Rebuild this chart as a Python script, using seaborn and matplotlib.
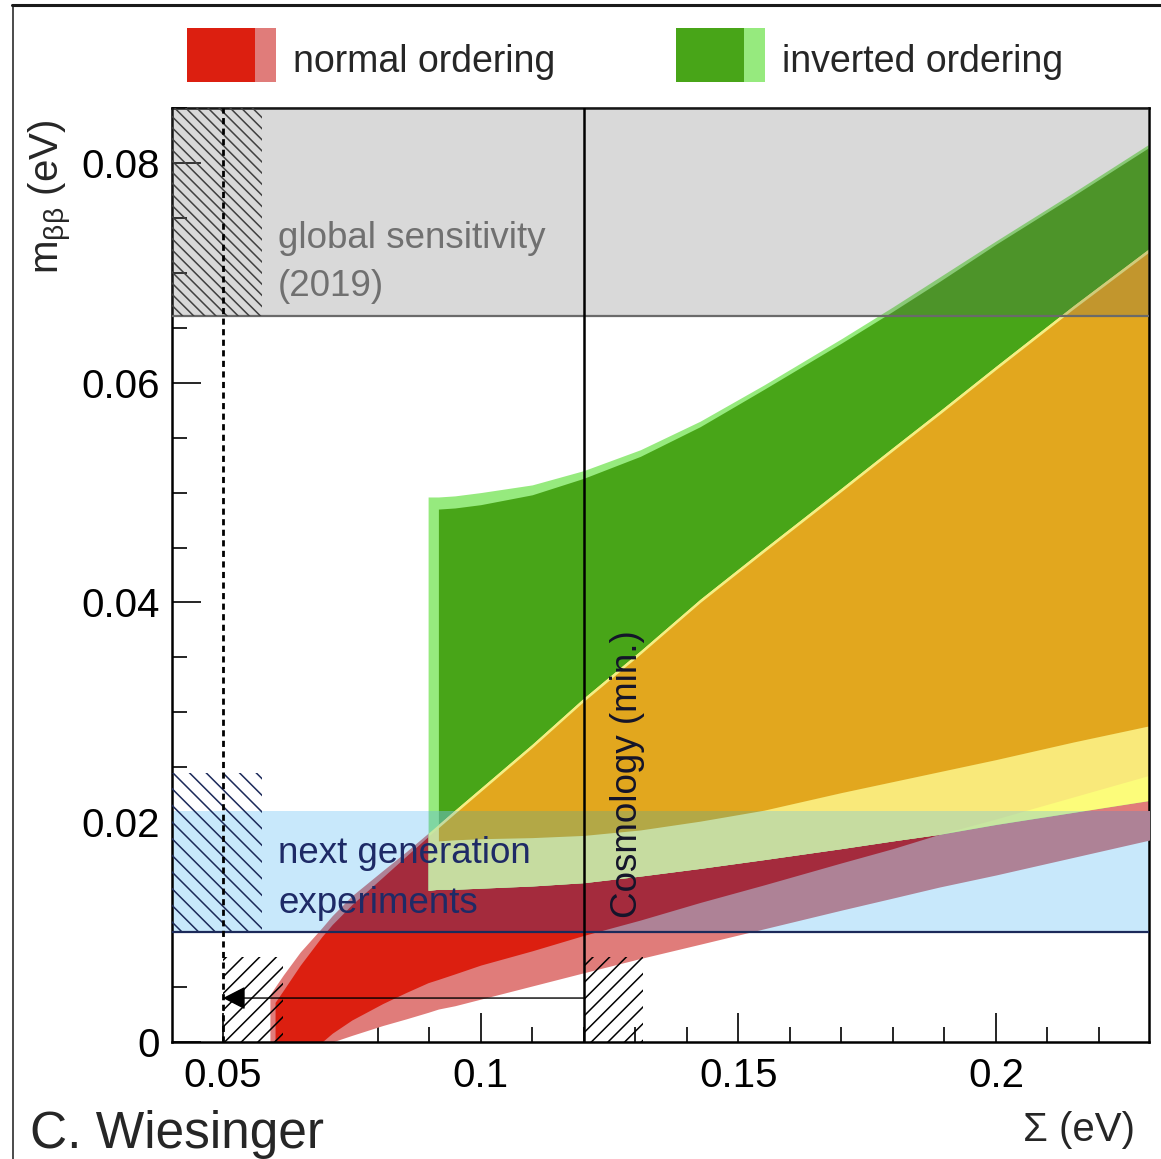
import numpy as np
import matplotlib
matplotlib.use("Agg")
import matplotlib.pyplot as plt
import seaborn as sns
from matplotlib.patches import Rectangle
from matplotlib.lines import Line2D
from matplotlib.ticker import MultipleLocator

sns.set_theme(style="white")
plt.rcParams['font.family'] = ['Liberation Sans', 'DejaVu Sans']
plt.rcParams['mathtext.fontset'] = 'custom'
plt.rcParams['mathtext.rm'] = 'Liberation Sans'
plt.rcParams['mathtext.it'] = 'Liberation Sans:italic'
plt.rcParams['hatch.linewidth'] = 1.1

nan = np.nan
# sum of neutrino masses (eV), common knots for all band edges
sigma = np.array([0.0591, 0.0601, 0.0617, 0.065, 0.0692, 0.0712, 0.075, 0.081, 0.0855,
                  0.0898, 0.0918, 0.095, 0.100, 0.110, 0.120, 0.131, 0.1426, 0.155,
                  0.170, 0.180, 0.189, 0.200, 0.215, 0.230])

# normal ordering, outer (light) and inner (dark) band edges of m_bb (eV)
no_lo_out = np.array([0, 0, 0, 0, 0, 0, 0.0006, 0.0015, 0.0021, 0.0027, 0.0030, 0.0033,
                      0.0039, 0.0051, 0.0063, 0.0076, 0.0089, 0.0103, 0.0120, 0.0131,
                      0.0141, 0.0152, 0.0168, 0.0184])
no_hi_out = np.array([0.0043, 0.0050, 0.0061, 0.0082, 0.0104, 0.0115, 0.0133, 0.0156,
                      0.0173, 0.0190, 0.0198, 0.0211, 0.0231, 0.0271, 0.0313, 0.0356,
                      0.0403, 0.0449, 0.0504, 0.0541, 0.0574, 0.0615, 0.0670, 0.0723])
no_lo_in = np.array([nan, 0, 0, 0, 0, 0.0008, 0.0020, 0.0035, 0.0045, 0.0054, 0.0057,
                     0.0062, 0.0070, 0.0083, 0.0097, 0.0111, 0.0127, 0.0143, 0.0163,
                     0.0176, 0.0189, 0.0203, 0.0223, 0.0243])
no_hi_in = np.array([nan, 0.0036, 0.0047, 0.0070, 0.0096, 0.0107, 0.0125, 0.0150, 0.0169,
                     0.0187, 0.0195, 0.0208, 0.0228, 0.0268, 0.0310, 0.0353, 0.0400,
                     0.0446, 0.0501, 0.0538, 0.0571, 0.0612, 0.0667, 0.0720])

# inverted ordering
io_lo_out = np.array([nan] * 9 + [0.0138, 0.0139, 0.0139, 0.0140, 0.0142, 0.0145, 0.0151,
                                  0.0158, 0.0166, 0.0176, 0.0183, 0.0189, 0.0198, 0.0209,
                                  0.0220])
io_hi_out = np.array([nan] * 9 + [0.0496, 0.0496, 0.0497, 0.0500, 0.0507, 0.0520, 0.0539,
                                  0.0565, 0.0598, 0.0640, 0.0669, 0.0696, 0.0729, 0.0773,
                                  0.0818])
io_lo_in = np.array([nan] * 10 + [0.0183, 0.0184, 0.0185, 0.0186, 0.0188, 0.0193, 0.0201,
                                  0.0211, 0.0227, 0.0237, 0.0246, 0.0257, 0.0273, 0.0288])
io_hi_in = np.array([nan] * 10 + [0.0485, 0.0486, 0.0489, 0.0498, 0.0513, 0.0533, 0.0560,
                                  0.0594, 0.0636, 0.0665, 0.0692, 0.0726, 0.0770, 0.0815])

# limits (eV)
global_sens = 0.0661
next_gen = (0.0100, 0.0210)
cosmo_min = 0.120
osc_min = 0.050
arrow_y = 0.0040

colors = {'no_out': '#e07c7a', 'no_in': '#dc1f10', 'io_out': '#96ea7e', 'io_in': '#48a518',
          'oo': '#fcfc7a', 'io': '#f9e97a', 'oi': '#f4ee84', 'ii': '#e2a71e'}
colors_blue = {'no_out': '#ae8296', 'no_in': '#a42b3d', 'io_out': '#80d6a2', 'io_in': '#5cb27a',
               'oo': '#c8e6a0', 'io': '#c6dca0', 'oi': '#c6dca0', 'ii': '#b3a846'}

fig = plt.figure(figsize=(11.61, 11.59), dpi=100)
ax = fig.add_axes([172 / 1161, 1 - 1042 / 1159, 977 / 1161, 934 / 1159])
ax.set_xlim(0.0401, 0.2297)
ax.set_ylim(0, 0.085)

blue_band = ax.axhspan(*next_gen, color='#c8e8fb', lw=0, zorder=2)


def band(lo, hi, key):
    ok = ~np.isnan(lo) & ~np.isnan(hi)
    ok &= np.where(ok, hi, 0) > np.where(ok, lo, 0)
    lo = np.where(ok, lo, 0)
    hi = np.where(ok, hi, 0)
    ax.fill_between(sigma, lo, hi, where=ok, color=colors[key], lw=0, zorder=1)
    p = ax.fill_between(sigma, lo, hi, where=ok, color=colors_blue[key], lw=0, zorder=3)
    p.set_clip_path(blue_band)


band(no_lo_out, no_hi_out, 'no_out')
band(no_lo_in, no_hi_in, 'no_in')
band(io_lo_out, io_hi_out, 'io_out')
band(io_lo_in, io_hi_in, 'io_in')
band(np.maximum(no_lo_out, io_lo_out), np.minimum(no_hi_out, io_hi_out), 'oo')
band(np.maximum(no_lo_in, io_lo_out), np.minimum(no_hi_in, io_hi_out), 'io')
band(np.maximum(no_lo_out, io_lo_in), np.minimum(no_hi_out, io_hi_in), 'oi')
band(np.maximum(no_lo_in, io_lo_in), np.minimum(no_hi_in, io_hi_in), 'ii')

# global sensitivity band
ax.axhspan(global_sens, 0.085, color='#606060', alpha=0.24, lw=0, zorder=4)
ax.axhline(global_sens, color='#6a6a6a', lw=1.6, zorder=5)
ax.axhline(next_gen[0], color='#1c2a5a', lw=1.6, zorder=5)

# hatched areas
ax.add_patch(Rectangle((0.0401, global_sens), 0.0575 - 0.0401, 0.085 - global_sens,
                       fill=False, hatch='\\\\\\', edgecolor='#404040', lw=0, zorder=5))
ax.add_patch(Rectangle((0.0401, next_gen[0]), 0.0575 - 0.0401, 0.0245 - next_gen[0],
                       fill=False, hatch='\\\\', edgecolor='#1c2a5a', lw=0, zorder=5))
ax.add_patch(Rectangle((osc_min, 0), 0.0617 - osc_min, 0.0077,
                       fill=False, hatch='//', edgecolor='black', lw=0, zorder=5))
ax.add_patch(Rectangle((cosmo_min, 0), 0.1315 - cosmo_min, 0.0077,
                       fill=False, hatch='//', edgecolor='black', lw=0, zorder=5))

ax.axvline(osc_min, color='black', lw=2, ls=(0, (2.2, 1.6)), zorder=6)
ax.axvline(cosmo_min, color='black', lw=1.8, zorder=6)
ax.annotate('', xy=(osc_min, arrow_y), xytext=(cosmo_min, arrow_y),
            arrowprops=dict(arrowstyle='-|>,head_length=0.7,head_width=0.36', color='black',
                            lw=1.0, shrinkA=0, shrinkB=0, mutation_scale=20), zorder=6)

# texts
ax.text(0.0607, 0.07226, 'global sensitivity', color='#707070', fontsize=26.5, va='baseline', zorder=7)
ax.text(0.0607, 0.06789, '(2019)', color='#707070', fontsize=26.5, va='baseline', zorder=7)
ax.text(0.0607, 0.01629, 'next generation', color='#1e2a66', fontsize=26.5, va='baseline', zorder=7)
ax.text(0.0607, 0.01174, 'experiments', color='#1e2a66', fontsize=26.5, va='baseline', zorder=7)
ax.text(0.1304, 0.0113, 'Cosmology (min.)', color='#14142a', fontsize=26.5, rotation=90,
        rotation_mode='anchor', ha='left', va='baseline', zorder=7)

# axes styling
for s in ax.spines.values():
    s.set_color('black')
    s.set_linewidth(1.8)
ax.set_xticks([0.05, 0.1, 0.15, 0.2], ['0.05', '0.1', '0.15', '0.2'])
ax.set_yticks([0, 0.02, 0.04, 0.06, 0.08], ['0', '0.02', '0.04', '0.06', '0.08'])
ax.xaxis.set_minor_locator(MultipleLocator(0.01))
ax.yaxis.set_minor_locator(MultipleLocator(0.005))
ax.tick_params(which='both', direction='in', bottom=True, left=True, top=False, right=False,
               color='black', width=1.2)
ax.tick_params(which='major', length=21, labelsize=29, labelcolor='black')
ax.tick_params(axis='x', which='major', pad=11)
ax.tick_params(axis='y', which='major', pad=9)
ax.tick_params(which='minor', length=11)
ax.grid(False)

fig.text(50 / 1161, 1 - 197 / 1159, r'm$_{\mathrm{\beta\beta}}$ (eV)', rotation=90,
         ha='center', va='center', fontsize=29)
fig.text(1135 / 1161, 1 - 1130 / 1159, 'Σ (eV)', ha='right', va='center', fontsize=29)
fig.text(30 / 1161, 1 - 1148 / 1159, 'C. Wiesinger', ha='left', va='baseline', fontsize=37)

# legend
for x0, c_in, c_out, label in [(187, colors['no_in'], colors['no_out'], 'normal ordering'),
                               (676, colors['io_in'], colors['io_out'], 'inverted ordering')]:
    fig.patches.append(Rectangle((x0 / 1161, 1 - 82 / 1159), 68 / 1161, 54 / 1159,
                                 color=c_in, lw=0, transform=fig.transFigure))
    fig.patches.append(Rectangle(((x0 + 68) / 1161, 1 - 82 / 1159), 21 / 1161, 54 / 1159,
                                 color=c_out, lw=0, transform=fig.transFigure))
    fig.text((x0 + 106) / 1161, 1 - 72 / 1159, label, fontsize=27, va='baseline', ha='left')

# screenshot frame
fig.add_artist(Line2D([12 / 1161, 1], [1 - 5 / 1159] * 2, color='#1a1a1a', lw=2.2,
                      transform=fig.transFigure))
fig.add_artist(Line2D([12.5 / 1161] * 2, [0, 1 - 5 / 1159], color='#1a1a1a', lw=1.1,
                      transform=fig.transFigure))

fig.savefig('out.png', dpi=100)
